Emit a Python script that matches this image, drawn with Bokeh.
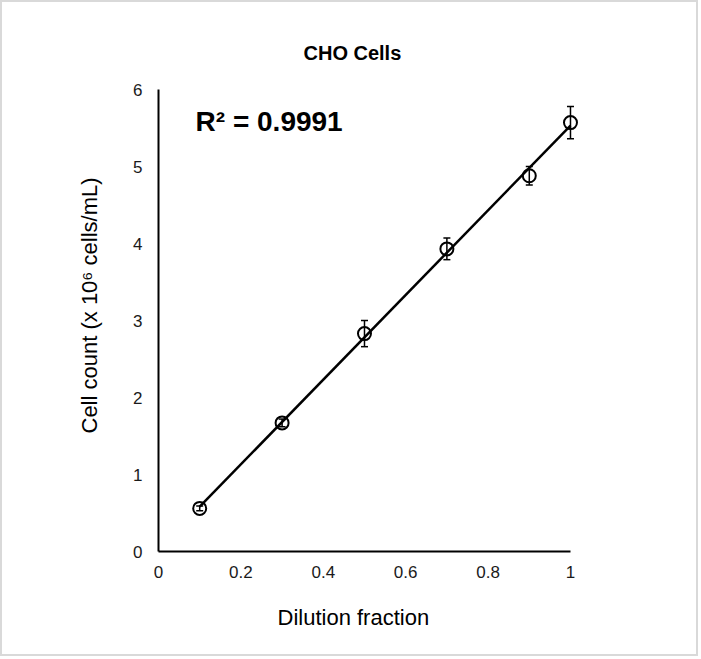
import numpy as np
from bokeh.plotting import figure
from bokeh.models import Range1d, FixedTicker, Label, Whisker, TeeHead, ColumnDataSource, Title
from bokeh.embed import file_html
from bokeh.resources import INLINE

# ---- data ----
dilution = [0.1, 0.3, 0.5, 0.7, 0.9, 1.0]
cell_count = [0.56, 1.67, 2.83, 3.93, 4.88, 5.57]
cell_err = [0.03, 0.05, 0.17, 0.14, 0.12, 0.21]
x_ticks = [0, 0.2, 0.4, 0.6, 0.8, 1.0]
x_tick_labels = ["0", "0.2", "0.4", "0.6", "0.8", "1"]
y_ticks = [0, 1, 2, 3, 4, 5, 6]
title_text = "CHO Cells"
r2_text = "R\u00b2 = 0.9991"
x_label = "Dilution fraction"
y_label = "Cell count (x 10\u2076 cells/mL)"

FONT = "Liberation Sans"

p = figure(width=698, height=656, output_backend="svg", toolbar_location=None,
           x_range=Range1d(0, 1.0413), y_range=Range1d(0, 6),
           min_border_left=156, min_border_right=113,
           min_border_top=87, min_border_bottom=107)
p.styles = {"border": "2px solid #d9d9d9"}

p.title.text = title_text
p.title.text_font = FONT
p.title.text_font_size = "20px"
p.title.text_font_style = "bold"
p.title.text_color = "black"
p.title.align = "left"
p.title.offset = 145
p.title.standoff = 52

p.grid.visible = False
p.outline_line_color = None

for ax in (p.xaxis[0], p.yaxis[0]):
    ax.axis_line_color = "black"
    ax.axis_line_width = 2
    ax.major_tick_line_color = None
    ax.minor_tick_line_color = None
    ax.major_tick_out = 0
    ax.major_tick_in = 0
    ax.minor_tick_out = 0
    ax.major_label_text_font = FONT
    ax.major_label_text_font_size = "17px"
    ax.major_label_text_color = "#1a1a1a"

p.xaxis.bounds = (0, 1)
p.xaxis.ticker = FixedTicker(ticks=x_ticks)
p.xaxis.major_label_overrides = {t: l for t, l in zip(x_ticks, x_tick_labels)}
p.xaxis.major_label_standoff = 14

p.yaxis.bounds = (0, 6)
p.yaxis.ticker = FixedTicker(ticks=y_ticks)
p.yaxis.major_label_standoff = 16

# axis titles (placed as side titles so they can be offset like the original)
xt = Title(text=x_label, align="left", offset=119, standoff=45,
           text_font=FONT, text_font_size="22px", text_font_style="normal",
           text_color="black")
p.add_layout(xt, "below")
yt = Title(text=y_label, align="left", offset=118, standoff=57,
           text_font=FONT, text_font_size="22px", text_font_style="normal",
           text_color="black")
p.add_layout(yt, "left")

# trendline (linear fit of the data)
slope, intercept = np.polyfit(dilution, cell_count, 1)
tx = [min(dilution), max(dilution)]
ty = [slope * v + intercept for v in tx]
p.line(tx, ty, line_color="black", line_width=2.5)

src = ColumnDataSource(dict(
    x=dilution, y=cell_count,
    lo=[c - e for c, e in zip(cell_count, cell_err)],
    hi=[c + e for c, e in zip(cell_count, cell_err)],
))
w = Whisker(source=src, base="x", lower="lo", upper="hi",
            line_color="black", line_width=1.5,
            upper_head=TeeHead(size=7, line_color="black", line_width=1.5),
            lower_head=TeeHead(size=7, line_color="black", line_width=1.5))
p.add_layout(w)

p.scatter("x", "y", source=src, marker="circle", size=13,
          fill_alpha=0, line_color="black", line_width=2)

p.add_layout(Label(x=0.09, y=5.58, text=r2_text, text_font=FONT,
                   text_font_size="28px", text_font_style="bold",
                   text_color="black", text_baseline="middle"))

open("out.html", "w").write(file_html(p, INLINE))
